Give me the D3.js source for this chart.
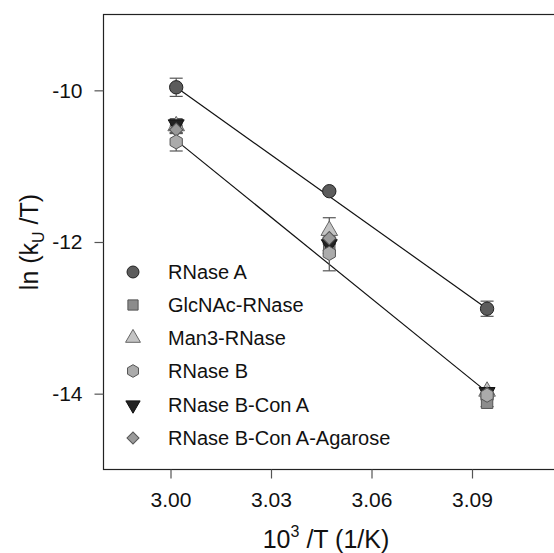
<!DOCTYPE html>
<html>
<head>
<meta charset="utf-8">
<script src="https://cdn.jsdelivr.net/npm/d3@7"></script>
<style>
  body { margin: 0; background: #fff; }
  svg { display: block; font-family: "Liberation Sans", Arial, sans-serif; }
</style>
</head>
<body>
<div id="chart"></div>
<script>
  // 1000/T for 60, 55, 50 C
  var invT = [3.0017, 3.0474, 3.0945];
  var seriesNames = ["RNase A", "GlcNAc-RNase", "Man3-RNase", "RNase B", "RNase B-Con A", "RNase B-Con A-Agarose"];
  var rnaseA   = [-9.96, -11.33, -12.88];
  var glcnac   = [-10.45, -12.05, -14.12];
  var man3     = [-10.47, -11.85, -13.97];
  var rnaseB   = [-10.68, -12.15, -14.02];
  var conA     = [-10.45, -12.03, -13.98];
  var agarose  = [-10.52, -11.95, -14.00];
  var errA     = [0.12, 0.03, 0.10];
  var errGlc   = [0.07, 0.10, 0.05];
  var errMan   = [0.09, 0.17, 0.05];
  var errB     = [0.12, 0.23, 0.06];
  var errConA  = [0.06, 0.08, 0.04];
  var errAgar  = [0.05, 0.08, 0.05];
  // fitted lines: [x1, y1, x2, y2]
  var fitUpper = [3.0017, -9.96, 3.0945, -12.88];
  var fitLower = [3.0017, -10.66, 3.0945, -13.98];
  var xTicks = [3.00, 3.03, 3.06, 3.09];
  var yTicks = [-10, -12, -14];

  var width = 554, height = 553;
  var plotLeft = 103.5, plotTop = 14.5, plotBottom = 469.5;
  var fontSize = 21, legendFont = 20, titleFont = 25;
  var x = d3.scaleLinear().domain([2.98, 3.12]).range([plotLeft, plotLeft + 0.14 * 3350]);
  var y = d3.scaleLinear().domain([-15, -9]).range([plotBottom, plotTop]);

  var svg = d3.select("#chart").append("svg")
      .attr("width", width)
      .attr("height", height);

  // frame (right edge falls outside the picture)
  svg.append("rect")
      .attr("x", x(2.98)).attr("y", y(-9))
      .attr("width", x(3.12) - x(2.98)).attr("height", y(-15) - y(-9))
      .attr("fill", "none").attr("stroke", "#222").attr("stroke-width", 1.2);

  var xAxis = svg.append("g")
      .attr("transform", "translate(0," + plotBottom + ")")
      .call(d3.axisBottom(x).tickValues(xTicks).tickFormat(d3.format(".2f"))
        .tickSize(9).tickSizeOuter(0).tickPadding(14));
  var yAxis = svg.append("g")
      .attr("transform", "translate(" + plotLeft + ",0)")
      .call(d3.axisLeft(y).tickValues(yTicks).tickFormat(function(d){ return String(d); })
        .tickSize(9).tickSizeOuter(0).tickPadding(12));
  [xAxis, yAxis].forEach(function(a){
    a.select(".domain").remove();
    a.selectAll("line").attr("stroke", "#555").attr("stroke-width", 1.2);
    a.selectAll("text").attr("font-size", fontSize).attr("fill", "#111")
      .attr("font-family", "Liberation Sans, Arial, sans-serif");
  });

  // axis titles
  var xt = svg.append("text")
      .attr("x", 326).attr("y", 548)
      .attr("text-anchor", "middle").attr("font-size", titleFont).attr("fill", "#111");
  xt.append("tspan").text("10");
  xt.append("tspan").attr("font-size", 16).attr("dy", -11).text("3");
  xt.append("tspan").attr("dy", 11).text(" /T (1/K)");

  var yt = svg.append("text")
      .attr("transform", "translate(38," + y(-12) + ") rotate(-90)")
      .attr("text-anchor", "middle").attr("font-size", titleFont).attr("fill", "#111");
  yt.append("tspan").text("ln (k");
  yt.append("tspan").attr("font-size", 16).attr("dy", 6).text("U");
  yt.append("tspan").attr("dy", -6).text(" /T)");

  // fit lines
  [fitUpper, fitLower].forEach(function(f){
    svg.append("line")
      .attr("x1", x(f[0])).attr("y1", y(f[1]))
      .attr("x2", x(f[2])).attr("y2", y(f[3]))
      .attr("stroke", "#111").attr("stroke-width", 1.2);
  });

  var hexagon = {
    draw: function(ctx, size){
      var r = Math.sqrt(size / (1.5 * Math.sqrt(3)));
      for (var i = 0; i < 6; i++){
        var a = Math.PI / 6 + i * Math.PI / 3;
        if (i == 0) ctx.moveTo(r * Math.cos(a), r * Math.sin(a));
        else ctx.lineTo(r * Math.cos(a), r * Math.sin(a));
      }
      ctx.closePath();
    }
  };

  var series = [
    {name: seriesNames[0], vals: rnaseA,  err: errA,    sym: d3.symbolCircle,   size: 140, rot: 0,   fill: "#5c5c5c", stroke: "#222"},
    {name: seriesNames[1], vals: glcnac,  err: errGlc,  sym: d3.symbolSquare,   size: 130, rot: 0,   fill: "#8c8c8c", stroke: "#555"},
    {name: seriesNames[2], vals: man3,    err: errMan,  sym: d3.symbolTriangle, size: 120, rot: 0,   fill: "#c4c4c4", stroke: "#666"},
    {name: seriesNames[4], vals: conA,    err: errConA, sym: d3.symbolTriangle, size: 110, rot: 180, fill: "#222",    stroke: "#111"},
    {name: seriesNames[5], vals: agarose, err: errAgar, sym: d3.symbolSquare,   size: 90,  rot: 45,  fill: "#9a9a9a", stroke: "#555"},
    {name: seriesNames[3], vals: rnaseB,  err: errB,    sym: hexagon,           size: 130, rot: 0,   fill: "#ababab", stroke: "#555"}
  ];

  // error bars
  series.forEach(function(s){
    var g = svg.append("g").attr("stroke", "#555").attr("stroke-width", 1.2);
    s.vals.forEach(function(v, i){
      var cx = x(invT[i]);
      g.append("line").attr("x1", cx).attr("x2", cx).attr("y1", y(v - s.err[i])).attr("y2", y(v + s.err[i]));
      [v - s.err[i], v + s.err[i]].forEach(function(e){
        g.append("line").attr("x1", cx - 6.5).attr("x2", cx + 6.5).attr("y1", y(e)).attr("y2", y(e));
      });
    });
  });

  // points
  series.forEach(function(s){
    svg.append("g").selectAll("path")
      .data(s.vals)
      .enter()
      .append("path")
      .attr("d", d3.symbol().type(s.sym).size(s.size))
      .attr("transform", function(d, i){
        return "translate(" + x(invT[i]) + "," + y(d) + ") rotate(" + s.rot + ")";
      })
      .attr("fill", s.fill).attr("stroke", s.stroke).attr("stroke-width", 1);
  });

  // legend
  var legendY = [272, 305, 338, 371, 405, 438];
  var legendOrder = [0, 1, 2, 5, 3, 4];
  legendOrder.forEach(function(si, k){
    var s = series[si];
    svg.append("path")
      .attr("d", d3.symbol().type(s.sym).size(s.size * 0.8))
      .attr("transform", "translate(133," + legendY[k] + ") rotate(" + s.rot + ")")
      .attr("fill", s.fill).attr("stroke", s.stroke).attr("stroke-width", 1);
    svg.append("text")
      .attr("x", 168).attr("y", legendY[k]).attr("dy", "0.36em")
      .attr("font-size", legendFont).attr("fill", "#111")
      .text(s.name);
  });
</script>
</body>
</html>
